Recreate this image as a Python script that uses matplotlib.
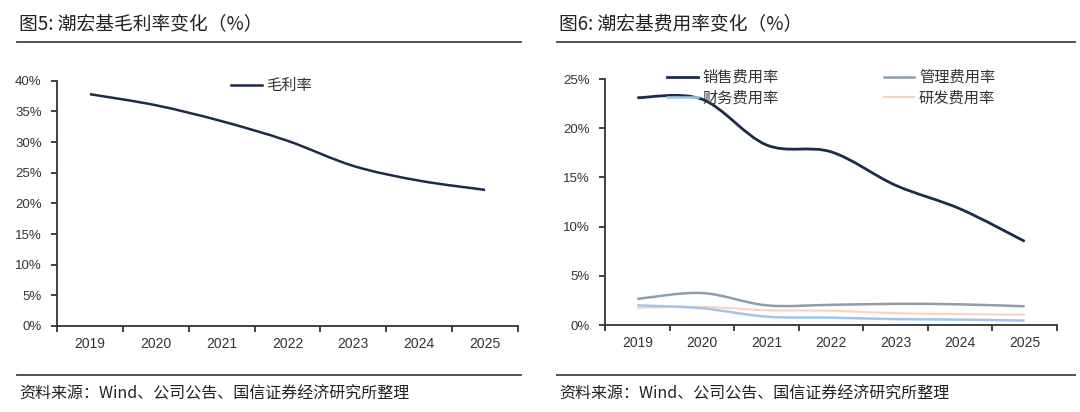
import numpy as np
import matplotlib
matplotlib.use("Agg")
import matplotlib.pyplot as plt
from matplotlib.path import Path
from matplotlib.patches import PathPatch
from matplotlib.lines import Line2D
from matplotlib.ticker import FixedLocator, NullFormatter

plt.rcParams['font.family'] = ['Noto Sans CJK SC', 'DejaVu Sans']

# ---- data ----
years = ['2019', '2020', '2021', '2022', '2023', '2024', '2025']
gross_margin = [37.8, 36.0, 33.4, 30.2, 26.1, 23.7, 22.2]

sales_rate = [23.1, 22.95, 18.3, 17.6, 14.2, 11.8, 8.5]
admin_rate = [2.65, 3.25, 2.0, 2.05, 2.15, 2.1, 1.9]
finance_rate = [2.0, 1.7, 0.85, 0.75, 0.6, 0.55, 0.45]
rd_rate = [1.75, 1.85, 1.5, 1.45, 1.2, 1.1, 1.05]

title_left = '图5: 潮宏基毛利率变化（%）'
title_right = '图6: 潮宏基费用率变化（%）'
source = '资料来源：Wind、公司公告、国信证券经济研究所整理'

NAVY = '#1d2b48'
GREY = '#8e9dab'
LBLUE = '#9fc5e8'
PEACH = '#f9d3bd'
AXC = '#333333'


def smooth_line(ax, xs, ys, color, lw):
    # Excel-style smoothed line: Catmull-Rom segments as cubic Bezier curves
    pts = np.column_stack([xs, ys]).astype(float)
    n = len(pts)
    verts = [pts[0]]
    codes = [Path.MOVETO]
    for i in range(n - 1):
        p0 = pts[i - 1] if i > 0 else pts[i]
        p1 = pts[i]
        p2 = pts[i + 1]
        p3 = pts[i + 2] if i + 2 < n else pts[i + 1]
        c1 = p1 + (p2 - p0) / 6.0
        c2 = p2 - (p3 - p1) / 6.0
        verts += [c1, c2, p2]
        codes += [Path.CURVE4] * 3
    patch = PathPatch(Path(verts, codes), facecolor='none', edgecolor=color,
                      lw=lw, capstyle='butt', joinstyle='round')
    ax.add_patch(patch)


def style_axis(ax, ymax, ystep):
    x = np.arange(len(years))
    ax.set_xlim(-0.5, len(years) - 0.5)
    ax.set_ylim(0, ymax)
    for s in ['top', 'right']:
        ax.spines[s].set_visible(False)
    for s in ['left', 'bottom']:
        ax.spines[s].set_color(AXC)
        ax.spines[s].set_linewidth(1.3)
    ax.set_xticks(x)
    ax.set_xticklabels(years, fontsize=10, color=AXC, family='Liberation Sans')
    ax.tick_params(axis='x', which='major', length=0, pad=8)
    ax.xaxis.set_minor_locator(FixedLocator(np.arange(-0.5, len(years), 1.0)))
    ax.xaxis.set_minor_formatter(NullFormatter())
    ax.tick_params(axis='x', which='minor', length=4, width=1.3, color=AXC,
                   direction='out')
    yt = np.arange(0, ymax + 0.01, ystep)
    ax.set_yticks(yt)
    ax.set_yticklabels(['%d%%' % v for v in yt], fontsize=9.5, color=AXC,
                       family='Liberation Sans')
    ax.tick_params(axis='y', length=4, width=1.3, color=AXC, pad=7)


fig = plt.figure(figsize=(10.8, 4.12), dpi=100)

W, H = 1080.0, 412.0


def fx(px):
    return px / W


def fy(py):
    return 1 - py / H


# ---- left panel ----
axl = fig.add_axes([fx(57), fy(326), fx(518 - 57), (326 - 80.7) / H])
style_axis(axl, 40, 5)
smooth_line(axl, np.arange(len(years)), gross_margin, NAVY, 1.8)
hl = [Line2D([], [], color=NAVY, lw=1.8)]
fig.legend(hl, ['毛利率'], loc='upper left', bbox_to_anchor=(fx(231), fy(77)),
           frameon=False, fontsize=11, handlelength=2.0, handletextpad=0.3,
           borderpad=0, borderaxespad=0, labelcolor='#333333')

# ---- right panel ----
axr = fig.add_axes([fx(605), fy(325), fx(1057 - 605), (325 - 79) / H])
style_axis(axr, 25, 5)
xr = np.arange(len(years))
smooth_line(axr, xr, rd_rate, PEACH, 1.5)
smooth_line(axr, xr, finance_rate, LBLUE, 1.8)
smooth_line(axr, xr, admin_rate, GREY, 1.8)
smooth_line(axr, xr, sales_rate, NAVY, 2.0)
hr = [Line2D([], [], color=NAVY, lw=2.0),
      Line2D([], [], color=LBLUE, lw=1.8),
      Line2D([], [], color=GREY, lw=1.8),
      Line2D([], [], color=PEACH, lw=1.5)]
fig.legend(hr, ['销售费用率', '财务费用率', '管理费用率', '研发费用率'], ncol=2,
           loc='upper left', bbox_to_anchor=(fx(667), fy(69)),
           frameon=False, fontsize=11, handlelength=2.0, handletextpad=0.3,
           labelspacing=0.25, columnspacing=6.9, borderpad=0, borderaxespad=0,
           labelcolor='#333333')

# ---- headers and footers ----
for x0, x1, tx, title in [(17, 521, 19, title_left), (557, 1075, 559, title_right)]:
    fig.text(fx(tx), fy(25), title, fontsize=13.5, color='#222222', va='center', ha='left')
    fig.add_artist(Line2D([fx(x0), fx(x1)], [fy(42), fy(42)], color='#444444', lw=1.3))
    fig.add_artist(Line2D([fx(x0), fx(x1)], [fy(375), fy(375)], color='#444444', lw=1.3))
    fig.text(fx(tx), fy(394), source, fontsize=11.5, color='#222222', va='center', ha='left')

fig.savefig('out.png', dpi=100)
